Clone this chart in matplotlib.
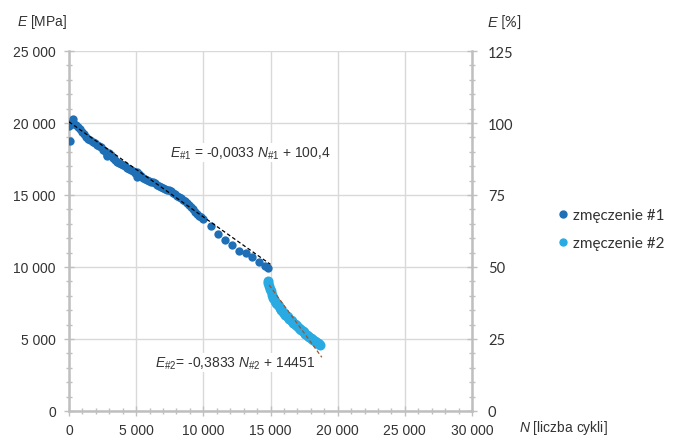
import numpy as np
import matplotlib
matplotlib.use("Agg")
import matplotlib.pyplot as plt
from matplotlib.lines import Line2D
from matplotlib.ticker import MultipleLocator, FuncFormatter

plt.rcParams['font.family'] = ['Liberation Sans', 'DejaVu Sans']
plt.rcParams['mathtext.fontset'] = 'custom'
plt.rcParams['mathtext.rm'] = 'Liberation Sans'
plt.rcParams['mathtext.it'] = 'Liberation Sans:italic'

# fatigue series #1 (N [cycles], E [MPa])
n1 = [0, 0, 100, 150, 300, 400, 550, 700, 850, 1000, 1150, 1300, 1450, 1600, 1750,
      1900, 2050, 2200, 2350, 2500, 2650, 2800, 2800, 2950, 3100, 3250, 3400, 3550,
      3700, 3850, 4000, 4150, 4300, 4450, 4600, 4750, 4900, 5050, 5050, 5200, 5350,
      5500, 5650, 5800, 5950, 6100, 6250, 6400, 6550, 6700, 6850, 7000, 7150, 7300,
      7450, 7600, 7750, 7900, 8050, 8200, 8350, 8500, 8650, 8800, 8950, 9100, 9250,
      9400, 9550, 9700, 9850, 10000, 10600, 11100, 11600, 12100, 12650, 13150,
      13650, 14150, 14600, 14800]
e1 = [19800, 19900, 18750, 19950, 20250, 19950, 19850, 19700, 19550, 19400, 19250,
      19050, 18900, 18800, 18700, 18600, 18450, 18400, 18300, 18150, 18050, 17800,
      17700, 17900, 17750, 17600, 17450, 17300, 17250, 17150, 17050, 16980, 16900,
      16800, 16750, 16650, 16550, 16250, 16600, 16450, 16300, 16200, 16100, 16050,
      15980, 15920, 15870, 15800, 15720, 15650, 15580, 15500, 15440, 15380, 15320,
      15250, 15150, 15050, 14950, 14850, 14780, 14680, 14550, 14430, 14300, 14150,
      14000, 13850, 13700, 13550, 13450, 13330, 12870, 12290, 11900, 11530, 11130,
      10950, 10670, 10370, 10090, 9910]

# fatigue series #2
n2 = [14800, 14850, 14900, 14950, 15000, 15100, 15200, 15300, 15400, 15500, 15600,
      15700, 15800, 15900, 16000, 16100, 16200, 16300, 16400, 16500, 16600, 16700,
      16800, 16900, 17000, 17100, 17200, 17300, 17400, 17500, 17600, 17700, 17800,
      17900, 18000, 18100, 18200, 18300, 18400, 18500, 18600, 18700]
e2 = [9050, 8900, 8700, 8500, 8300, 8050, 7850, 7650, 7500, 7400, 7260, 7130, 7010,
      6900, 6800, 6700, 6600, 6500, 6410, 6320, 6230, 6140, 6050, 5960, 5870, 5790,
      5700, 5620, 5540, 5460, 5380, 5300, 5230, 5160, 5090, 5020, 4950, 4870, 4790,
      4710, 4630, 4550]

# linear trend lines
trend1_n = [0, 15000]
trend1_e = [20080, 10180]
trend2_n = [14900, 18820]
trend2_e = [8750, 3730]

labels = ['zmęczenie #1', 'zmęczenie #2']
c1 = '#1F6FB6'
c2 = '#2AAAE2'
gray = '#BFBFBF'
txt = '#333333'

fig = plt.figure(figsize=(6.85, 4.39), dpi=100)
ax = fig.add_axes([69/685, 1-412/439, (472-69)/685, (412-52)/439])

ax.scatter(n1, e1, s=36, color=c1, zorder=3, linewidths=0)
ax.scatter(n2, e2, s=52, color=c2, zorder=3, linewidths=0)
ax.plot(trend1_n, trend1_e, color='black', ls=(0, (3, 2)), lw=0.9, zorder=4)
ax.plot(trend2_n, trend2_e, color='#A0522D', ls=(0, (3, 2)), lw=0.9, zorder=4)

ax.set_xlim(0, 30000)
ax.set_ylim(0, 25000)
ax.xaxis.set_major_locator(MultipleLocator(5000))
ax.xaxis.set_minor_locator(MultipleLocator(1000))
ax.yaxis.set_major_locator(MultipleLocator(5000))
ax.yaxis.set_minor_locator(MultipleLocator(1000))
fmt = FuncFormatter(lambda v, p: f"{int(v):,}".replace(",", " "))
ax.xaxis.set_major_formatter(fmt)
ax.yaxis.set_major_formatter(fmt)
ax.grid(True, which='major', color='#D9D9D9', lw=1)
ax.set_axisbelow(True)

for s in ['top', 'right']:
    ax.spines[s].set_visible(False)
for s in ['left', 'bottom']:
    ax.spines[s].set_color(gray)
    ax.spines[s].set_linewidth(1.8)
ax.tick_params(which='major', direction='inout', length=7, width=1, color=gray,
               labelsize=10, labelcolor=txt)
ax.tick_params(which='minor', direction='inout', length=5, width=1, color=gray)
ax.tick_params(axis='y', pad=6)
ax.tick_params(axis='x', pad=5)

ax2 = ax.twinx()
ax2.set_ylim(0, 125)
ax2.yaxis.set_major_locator(MultipleLocator(25))
ax2.yaxis.set_minor_locator(MultipleLocator(5))
for s in ['top', 'left', 'bottom']:
    ax2.spines[s].set_visible(False)
ax2.spines['right'].set_color(gray)
ax2.spines['right'].set_linewidth(1.8)
ax2.tick_params(which='major', direction='inout', length=7, width=1, color=gray,
                labelsize=10.5, labelcolor=txt, pad=8)
ax2.tick_params(which='minor', direction='inout', length=5, width=1, color=gray)
for lb in ax2.get_yticklabels():
    lb.set_family('Lato')

fig.text(17/685, 1-22/439, r'$E$ [MPa]', fontsize=10, color=txt, va='center')
fig.text(487/685, 1-22/439, r'$E$ [%]', fontsize=10.5, color=txt, va='center',
         family='Lato')
fig.text(519/685, 1-428/439, r'$N$ [liczba cykli]', fontsize=10, color=txt,
         va='center')

ax.text(7500, 17950, r'$E_{\#1}$ = -0,0033 $N_{\#1}$ + 100,4', fontsize=10,
        color=txt, va='center', zorder=5,
        bbox=dict(facecolor='white', edgecolor='none', pad=1))
ax.text(6400, 3350, r'$E_{\#2}$= -0,3833 $N_{\#2}$ + 14451', fontsize=10,
        color=txt, va='center', zorder=5,
        bbox=dict(facecolor='white', edgecolor='none', pad=1))

handles = [Line2D([], [], ls='none', marker='o', ms=5, color=c1),
           Line2D([], [], ls='none', marker='o', ms=5, color=c2)]
fig.legend(handles, labels, loc='center left', bbox_to_anchor=(540/685, 1-230/439),
           frameon=False, handletextpad=0.05, labelspacing=0.9, handlelength=1.2,
           prop={'family': 'Lato', 'size': 11}, labelcolor=txt)

fig.savefig('out.png', dpi=100)
